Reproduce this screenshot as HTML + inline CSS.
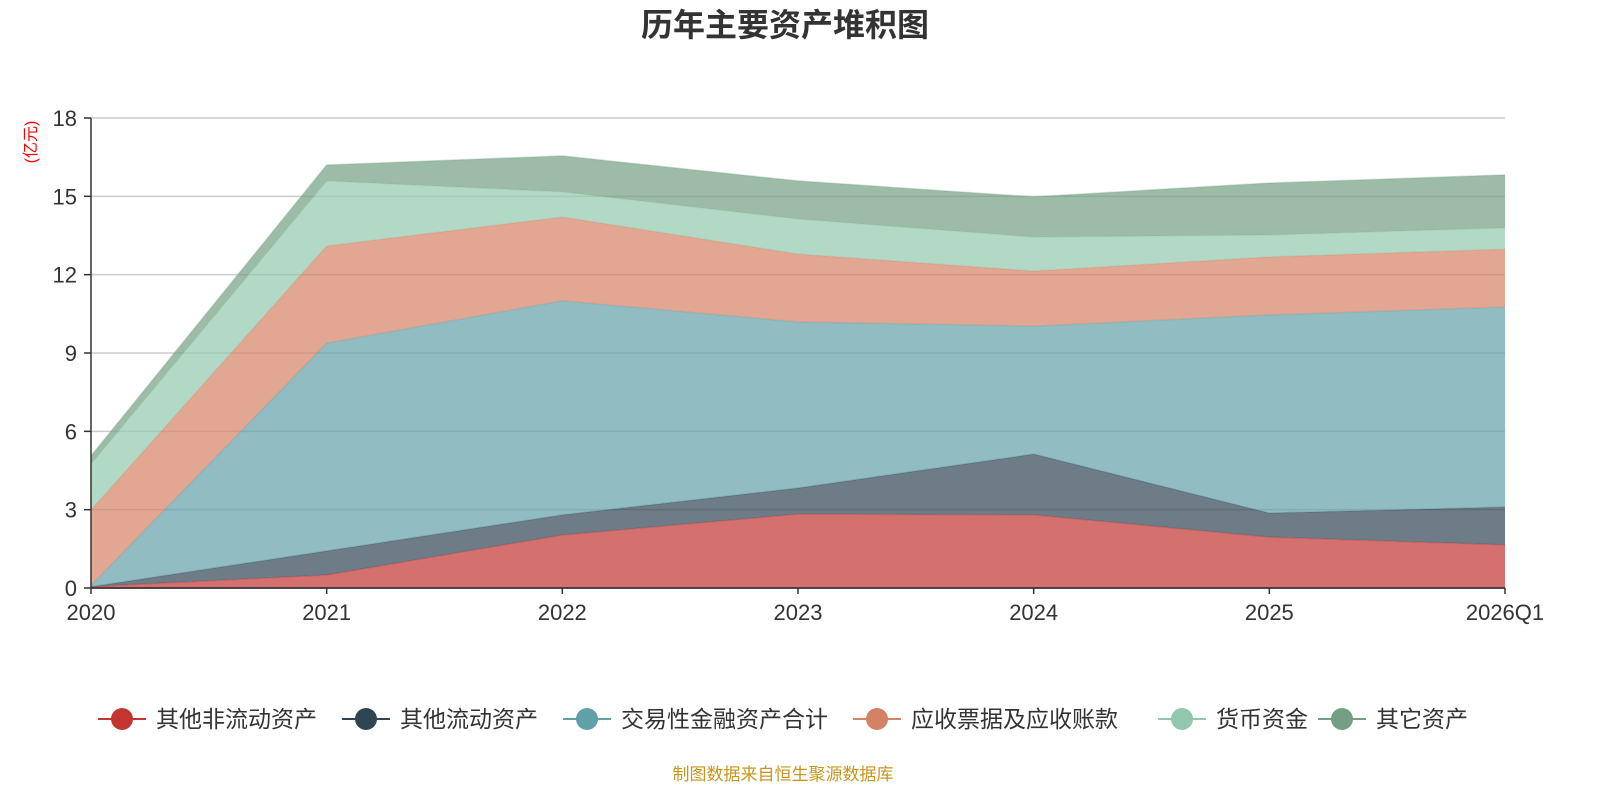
<!DOCTYPE html>
<html><head><meta charset="utf-8"><style>
body{margin:0;width:1600px;height:800px;background:#fff;overflow:hidden;font-family:"Liberation Sans","Noto Sans CJK SC",sans-serif}
</style></head><body>
<svg id="c" width="1600" height="800" xmlns="http://www.w3.org/2000/svg" style="font-family:'Liberation Sans','Noto Sans CJK SC',sans-serif">
<text x="785" y="36" text-anchor="middle" font-size="32" font-weight="bold" fill="#333">历年主要资产堆积图</text>
<text transform="translate(36,142) rotate(-90)" text-anchor="middle" font-size="16" fill="#ff0000">(亿元)</text>
<g id="grid"></g><g id="areas"></g><g id="axes"></g><g id="legend"></g>
<text x="783" y="780" text-anchor="middle" font-size="17" fill="#c8961e">制图数据来自恒生聚源数据库</text>
</svg>
<script>
const categories=["2020","2021","2022","2023","2024","2025","2026Q1"];
const seriesNames=["其他非流动资产","其他流动资产","交易性金融资产合计","应收票据及应收账款","货币资金","其它资产"];
const s1=[0.05,0.5,2.03,2.83,2.8,1.95,1.65];
const s2=[0,0.92,0.77,1.0,2.33,0.92,1.45];
const s3=[0.05,7.96,8.2,6.36,4.9,7.59,7.66];
const s4=[2.89,3.72,3.21,2.6,2.11,2.22,2.22];
const s5=[1.76,2.49,0.96,1.34,1.3,0.84,0.81];
const s6=[0.31,0.61,1.38,1.46,1.54,1.99,2.03];
const yTicks=[0,3,6,9,12,15,18];
const colors=["#c23531","#2f4554","#61a0a8","#d48265","#91c7ae","#749f83"];
const NS="http://www.w3.org/2000/svg";
const X0=91,X1=1505,Y0=588,Y1=118,YMAX=18;
const xs=i=>X0+(X1-X0)*i/(categories.length-1);
const ys=v=>Y0-(Y0-Y1)*v/YMAX;
function mk(t,a,p){const e=document.createElementNS(NS,t);for(const k in a)e.setAttribute(k,a[k]);p.appendChild(e);return e;}
const grid=document.getElementById('grid'),axes=document.getElementById('axes'),areas=document.getElementById('areas'),leg=document.getElementById('legend');
yTicks.forEach(v=>{
 const l=mk('line',{x1:X0,x2:X1,y1:ys(v),y2:ys(v),stroke:v===0?'#333':'#ccc','stroke-width':1.5},grid);
 
 const tk=mk('line',{x1:X0-7,x2:X0,y1:ys(v),y2:ys(v),stroke:'#333','stroke-width':1.5},axes);
 
 const t=mk('text',{x:X0-14,y:ys(v)+8,'text-anchor':'end','font-size':22,fill:'#333'},axes);t.textContent=v;
 
});
const ya=mk('line',{x1:X0,x2:X0,y1:Y1,y2:Y0,stroke:'#333','stroke-width':1.5},axes);

const xa=mk('line',{x1:X0,x2:X1,y1:Y0,y2:Y0,stroke:'#333','stroke-width':1.5},axes);

categories.forEach((c,i)=>{
 const tk=mk('line',{x1:xs(i),x2:xs(i),y1:Y0,y2:Y0+6,stroke:'#333','stroke-width':1.5},axes);
 
 const t=mk('text',{x:xs(i),y:Y0+32,'text-anchor':'middle','font-size':22,fill:'#333'},axes);t.textContent=c;
 
});
const series=[s1,s2,s3,s4,s5,s6];
let base=categories.map(()=>0);
series.forEach((s,k)=>{
 const top=base.map((b,i)=>b+s[i]);
 let d='M'+top.map((v,i)=>xs(i)+','+ys(v)).join('L');
 for(let i=base.length-1;i>=0;i--)d+='L'+xs(i)+','+ys(base[i]);
 d+='Z';
 const p=mk('path',{d:d,fill:colors[k],'fill-opacity':0.7,stroke:'none'},areas);
 
 const ln=mk('polyline',{points:top.map((v,i)=>xs(i)+','+ys(v)).join(' '),fill:'none',stroke:colors[k],'stroke-opacity':0.3,'stroke-width':1.5},areas);
 
 base=top;
});
const lx=[98,342,563,853,1158,1318];
seriesNames.forEach((n,k)=>{
 const g=mk('g',{},leg);
 mk('line',{x1:lx[k],x2:lx[k]+48,y1:719,y2:719,stroke:colors[k],'stroke-width':2},g);
 mk('circle',{cx:lx[k]+24,cy:719,r:11,fill:colors[k]},g);
 const t=mk('text',{x:lx[k]+58,y:727,'font-size':23,fill:'#333'},g);t.textContent=n;
});
</script>
</body></html>
